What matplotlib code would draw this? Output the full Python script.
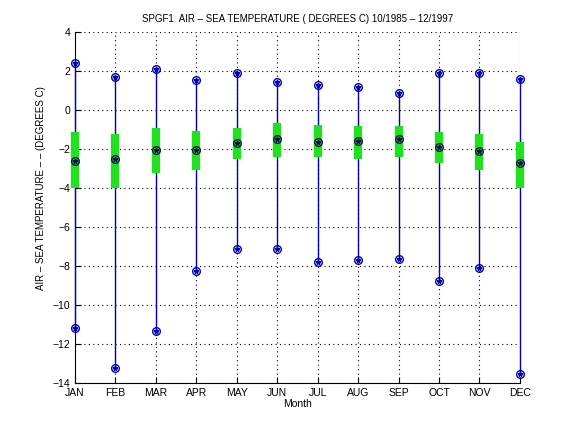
import matplotlib
matplotlib.use("Agg")
import matplotlib.pyplot as plt
import numpy as np

months = ["JAN", "FEB", "MAR", "APR", "MAY", "JUN", "JUL", "AUG", "SEP", "OCT", "NOV", "DEC"]
max_vals = [2.39, 1.69, 2.10, 1.52, 1.90, 1.42, 1.28, 1.18, 0.89, 1.90, 1.90, 1.59]
min_vals = [-11.16, -13.25, -11.35, -8.24, -7.13, -7.13, -7.81, -7.71, -7.64, -8.77, -8.10, -13.56]
mean_vals = [-2.63, -2.51, -2.03, -2.03, -1.69, -1.49, -1.62, -1.59, -1.49, -1.88, -2.10, -2.74]
box_top = [-1.14, -1.25, -0.92, -1.08, -0.92, -0.67, -0.77, -0.82, -0.82, -1.13, -1.23, -1.64]
box_bot = [-3.98, -3.98, -3.21, -3.06, -2.50, -2.39, -2.39, -2.50, -2.39, -2.70, -3.06, -3.98]
yticks = [-14, -12, -10, -8, -6, -4, -2, 0, 2, 4]

plt.rcParams['font.family'] = ['Liberation Sans', 'DejaVu Sans']
fig = plt.figure(figsize=(5.76, 4.32), dpi=100)
ax = fig.add_axes([0.13, 0.1134, 0.7726, 0.8125])

x = np.arange(1, len(months) + 1)
blue = '#0000b0'
ax.vlines(x, min_vals, max_vals, colors=blue, linewidth=1.0, zorder=3, clip_on=False)
ax.vlines(x, box_bot, box_top, colors='#20e020', linewidth=6, zorder=4, clip_on=False)
for vals, col in [(max_vals, blue), (min_vals, blue), (mean_vals, '#101050')]:
    ax.plot(x, vals, 'o', mfc='none', mec=col, ms=5.5, mew=1.0, zorder=5, clip_on=False)
    ax.plot(x, vals, '*', color=col, ms=3.5, zorder=6, clip_on=False)

ax.set_xlim(1, 12)
ax.set_ylim(-14, 4)
ax.set_xticks(x)
ax.set_xticklabels(months)
ax.set_yticks(yticks)
ax.grid(True, linestyle=(0, (1, 3)), color='black', linewidth=0.8)
ax.spines['top'].set_visible(False)
ax.spines['right'].set_visible(False)
ax.tick_params(direction='in', labelsize=7.5, length=4, top=False, right=False)
ax.set_title("SPGF1  AIR \u2013 SEA TEMPERATURE ( DEGREES C) 10/1985 \u2013 12/1997", fontsize=7, pad=7)
ax.set_xlabel("Month", fontsize=7.5, labelpad=1)
ax.set_ylabel("AIR \u2013 SEA TEMPERATURE \u2013 \u2013 (DEGREES C)", fontsize=7)
ax.yaxis.set_label_coords(-0.065, 0.556)

fig.savefig("out.png", dpi=100)
